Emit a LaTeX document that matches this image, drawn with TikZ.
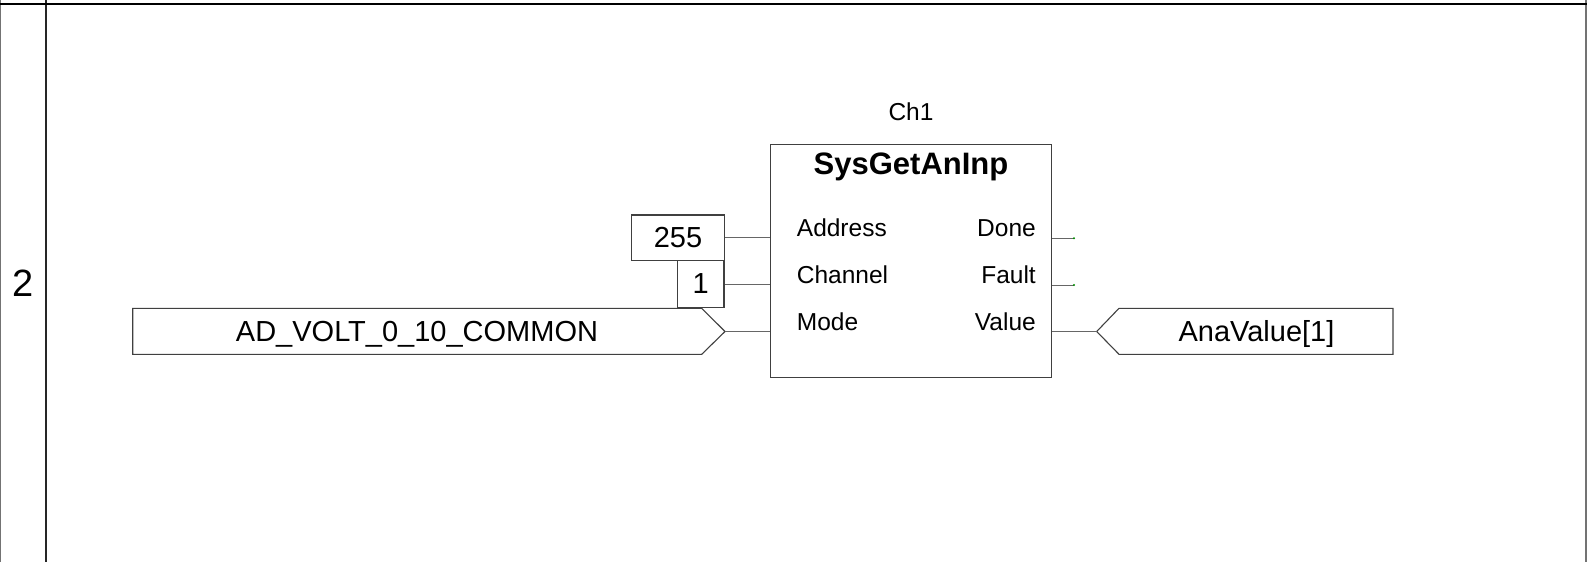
\documentclass[tikz,border=0pt]{standalone}
\usepackage{fontspec}
\setmainfont{Liberation Sans}
\begin{document}
\begin{tikzpicture}[x=1pt,y=-1pt,
  box/.style={draw=black!75,line width=1.1pt,inner sep=0pt,fill=white},
  outline/.style={draw=black!75,line width=1.1pt},
  pinline/.style={draw=black!60,line width=1pt},
  frame/.style={line width=1.4pt},
  bigtxt/.style={font=\fontsize{29}{34}\selectfont},
  pintxt/.style={font=\fontsize{24.5}{28}\selectfont,inner sep=0pt},
  enddot/.style={fill=green!55!black},
]
\useasboundingbox (0,0) rectangle (1587,562);
% frame
\draw[frame,black!55] (0.7,0) -- (0.7,562);
\draw[frame,black!85] (46,0) -- (46,562);
\draw[frame,black!55] (1586,0) -- (1586,562);
\draw[frame,black] (0,4) -- (1587,4);
\node[font=\fontsize{38}{44}\selectfont] (rung) at (23,283) {2};
% function block
\node[box,minimum width=281pt,minimum height=233pt] (fb) at (911.2,260.8) {};
\node[pintxt,anchor=base] (inst) at (911,120.7) {Ch1};
\node[font=\bfseries\fontsize{31}{36}\selectfont,inner sep=0pt,anchor=base] (title) at (911,174) {SysGetAnInp};
\node[pintxt,anchor=base west] (pAddress) at (796.7,236.7) {Address};
\node[pintxt,anchor=base west] (pChannel) at (796.7,283.3) {Channel};
\node[pintxt,anchor=base west] (pMode) at (796.7,330) {Mode};
\node[pintxt,anchor=base east] (pDone) at (1036,236.7) {Done};
\node[pintxt,anchor=base east] (pFault) at (1036,283.3) {Fault};
\node[pintxt,anchor=base east] (pValue) at (1036,330) {Value};
% constants
\node[box,bigtxt,minimum width=92.3pt,minimum height=45.7pt] (k255) at (678,237.8) {255};
\node[box,bigtxt,minimum width=46.3pt,minimum height=46.6pt] (k1) at (700.8,284) {1};
% input variable
\coordinate (adtl) at (132.7,308.3);
\coordinate (adtr) at (701.7,308.3);
\coordinate (adtip) at (725,331.5);
\coordinate (adbr) at (701.7,354.3);
\coordinate (adbl) at (132.7,354.3);
\draw[outline] (adtl) -- (adtr) -- (adtip) -- (adbr) -- (adbl) -- cycle;
\node[bigtxt,inner sep=0pt,anchor=base] (advar) at (417,341.7) {AD\_VOLT\_0\_10\_COMMON};
% output variable
\coordinate (avtip) at (1096.7,331.5);
\coordinate (avtl) at (1119,308.3);
\coordinate (avtr) at (1393,308.3);
\coordinate (avbr) at (1393,354.3);
\coordinate (avbl) at (1119,354.3);
\draw[outline] (avtip) -- (avtl) -- (avtr) -- (avbr) -- (avbl) -- cycle;
\node[bigtxt,inner sep=0pt,anchor=base] (avvar) at (1256.5,341.7) {AnaValue[1]};
% connectors
\draw[pinline] (k255.east) -- (fb.west |- k255.east);
\draw[pinline] (k1.east) -- (fb.west |- k1.east);
\draw[pinline] (adtip) -- (fb.west |- adtip);
\coordinate (doneend) at (1074,238.3);
\coordinate (faultend) at (1074,285);
\draw[pinline] (fb.east |- doneend) -- (doneend);
\draw[pinline] (fb.east |- faultend) -- (faultend);
\fill[enddot] (doneend) circle (1.1pt);
\fill[enddot] (faultend) circle (1.1pt);
\draw[pinline] (fb.east |- avtip) -- (avtip);
\end{tikzpicture}
\end{document}
